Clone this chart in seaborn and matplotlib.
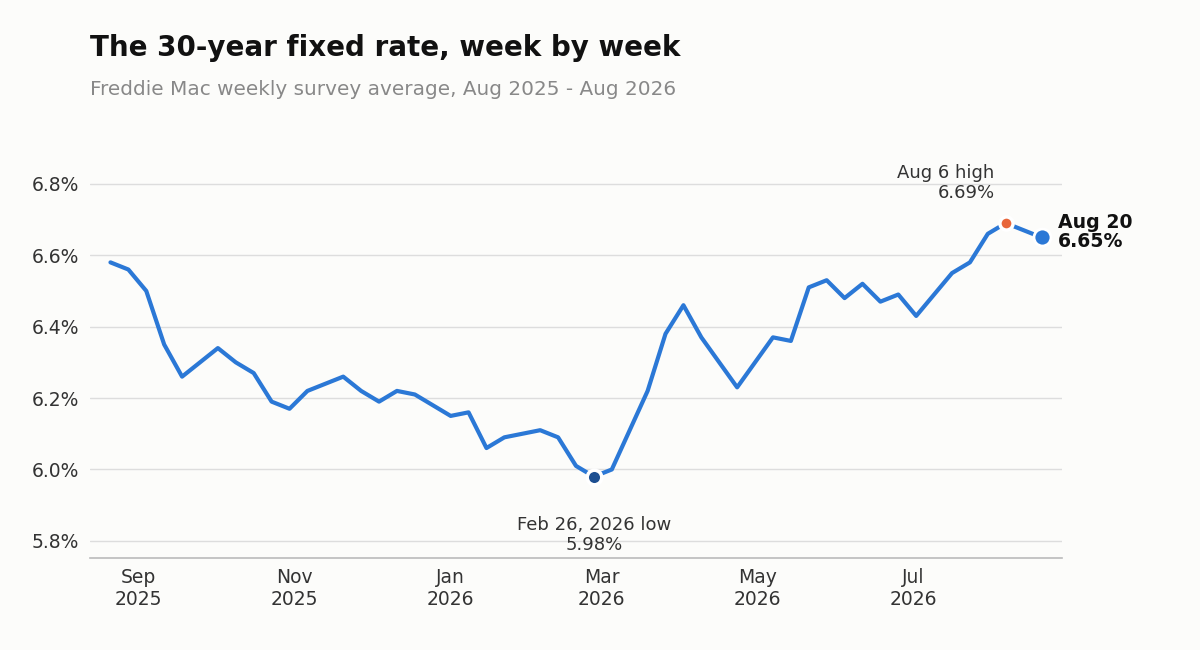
import pandas as pd
import matplotlib
matplotlib.use("Agg")
import matplotlib.pyplot as plt
import matplotlib.dates as mdates
import seaborn as sns

# --- Data: weekly 30-year fixed rate (%), Thursdays from Aug 21 2025 ---
start_date = "2025-08-21"
rates = [6.58, 6.56, 6.50, 6.35, 6.26, 6.30, 6.34, 6.30, 6.27, 6.19,
         6.17, 6.22, 6.24, 6.26, 6.22, 6.19, 6.22, 6.21, 6.18, 6.15,
         6.16, 6.06, 6.09, 6.10, 6.11, 6.09, 6.01, 5.98, 6.00, 6.11,
         6.22, 6.38, 6.46, 6.37, 6.30, 6.23, 6.30, 6.37, 6.36, 6.51,
         6.53, 6.48, 6.52, 6.47, 6.49, 6.43, 6.49, 6.55, 6.58, 6.66,
         6.69, 6.67, 6.65]
y_ticks = [5.8, 6.0, 6.2, 6.4, 6.6, 6.8]
x_ticks = ["2025-09-01", "2025-11-01", "2026-01-01", "2026-03-01", "2026-05-01", "2026-07-01"]

df = pd.DataFrame({
    "week": pd.date_range(start_date, periods=len(rates), freq="7D"),
    "rate": rates,
})
low = df.loc[df["rate"].idxmin()]
high = df.loc[df["rate"].idxmax()]
last = df.iloc[-1]

bg = "#fcfcfa"
line_color = "#2b78d6"

sns.set_style("white")
plt.rcParams["font.family"] = ["DejaVu Sans"]

fig = plt.figure(figsize=(12, 6.5), dpi=100, facecolor=bg)
ax = fig.add_axes([0.075, 0.1415, 0.81, 0.6125])
ax.set_facecolor(bg)

sns.lineplot(data=df, x="week", y="rate", ax=ax, color=line_color, linewidth=3, zorder=3)

# highlighted points
ax.scatter([low["week"]], [low["rate"]], s=110, color="#1d4f91", edgecolor="white", linewidth=2.5, zorder=5)
ax.scatter([high["week"]], [high["rate"]], s=90, color="#e8663a", edgecolor="white", linewidth=2.5, zorder=5)
ax.scatter([last["week"]], [last["rate"]], s=150, color=line_color, edgecolor="white", linewidth=2, zorder=5)

# annotations
ax.annotate(f"Feb 26, 2026 low\n{low['rate']:.2f}%", xy=(low["week"], low["rate"]),
            xytext=(0, -28), textcoords="offset points", ha="center", va="top",
            fontsize=13, color="#333333", linespacing=1.15)
ax.annotate(f"Aug 6 high\n{high['rate']:.2f}%", xy=(high["week"], high["rate"]),
            xytext=(-8, 15), textcoords="offset points", ha="right", va="bottom",
            fontsize=13, color="#333333", linespacing=1.15, annotation_clip=False)
ax.annotate(f"Aug 20\n{last['rate']:.2f}%", xy=(last["week"], last["rate"]),
            xytext=(12, 4), textcoords="offset points", ha="left", va="center",
            fontsize=13.6, fontweight="bold", color="#111111", linespacing=1.0,
            annotation_clip=False)

# axes styling
ax.set_ylim(5.752, 6.867)
ax.set_xlim(pd.Timestamp("2025-08-13"), pd.Timestamp("2026-08-28"))
ax.set_yticks(y_ticks)
ax.set_yticklabels([f"{v:.1f}%" for v in y_ticks])
ax.set_xticks(pd.to_datetime(x_ticks))
ax.xaxis.set_major_formatter(mdates.DateFormatter("%b\n%Y"))
ax.tick_params(axis="both", length=0, labelsize=13.5, labelcolor="#333333")
ax.tick_params(axis="x", pad=7)
ax.tick_params(axis="y", pad=8)
ax.grid(axis="y", color="#dddddd", linewidth=1)
ax.set_axisbelow(True)
for side in ["top", "right", "left"]:
    ax.spines[side].set_visible(False)
ax.spines["bottom"].set_color("#bbbbbb")
ax.spines["bottom"].set_linewidth(1.2)
ax.set_xlabel("")
ax.set_ylabel("")

# title and subtitle
fig.text(0.075, 0.926, "The 30-year fixed rate, week by week", fontsize=20,
         fontweight="bold", color="#111111", va="center")
fig.text(0.075, 0.862, "Freddie Mac weekly survey average, Aug 2025 - Aug 2026",
         fontsize=14.4, color="#888888", va="center")

fig.savefig("out.png", dpi=100, facecolor=bg)
